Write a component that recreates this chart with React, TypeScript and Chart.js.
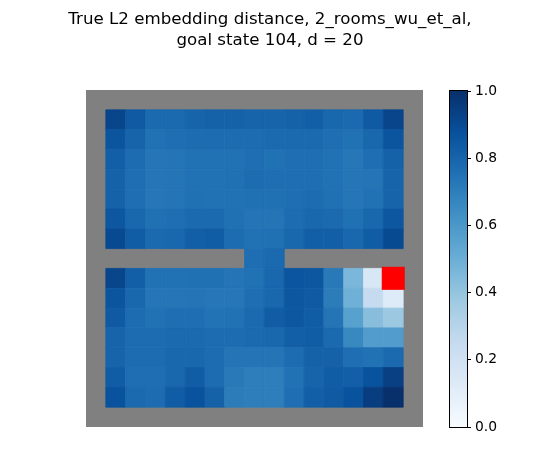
import React, { useEffect, useRef } from "react";
import { Chart, registerables } from "chart.js";

Chart.register(...registerables);

const titleLines = ["True L2 embedding distance, 2_rooms_wu_et_al,", "goal state 104, d = 20"];
const FONT = "'DejaVu Sans'";
const _ = null;
const row00 = [_, _, _, _, _, _, _, _, _, _, _, _, _, _, _, _, _];
const row01 = [_, .92, .84, .78, .78, .80, .81, .81, .80, .80, .81, .82, .79, .78, .84, .92, _];
const row02 = [_, .86, .80, .75, .76, .77, .77, .77, .77, .78, .78, .78, .76, .75, .79, .86, _];
const row03 = [_, .82, .77, .735, .74, .75, .75, .75, .76, .75, .76, .76, .75, .73, .76, .81, _];
const row04 = [_, .81, .76, .735, .74, .75, .75, .755, .77, .76, .76, .76, .75, .735, .74, .80, _];
const row05 = [_, .81, .76, .73, .74, .755, .75, .75, .755, .755, .76, .77, .755, .735, .75, .80, _];
const row06 = [_, .85, .79, .755, .76, .78, .78, .755, .74, .74, .77, .79, .78, .755, .79, .85, _];
const row07 = [_, .90, .83, .78, .79, .82, .83, .77, .75, .755, .79, .82, .82, .79, .83, .90, _];
const row08 = [_, _, _, _, _, _, _, _, .76, .78, _, _, _, _, _, _, _];
const row09 = [_, .92, .82, .75, .75, .755, .755, .74, .75, .79, .86, .85, .72, .46, .16, 0, _];
const row10 = [_, .86, .79, .735, .735, .74, .73, .73, .76, .79, .85, .84, .71, .49, .25, .13, _];
const row11 = [_, .84, .77, .75, .76, .76, .745, .75, .78, .83, .85, .83, .74, .56, .43, .38, _];
const row12 = [_, .80, .77, .77, .78, .78, .77, .77, .78, .79, .82, .83, .78, .66, .58, .58, _];
const row13 = [_, .80, .77, .77, .79, .79, .77, .74, .74, .74, .77, .81, .81, .76, .75, .78, _];
const row14 = [_, .83, .76, .76, .79, .83, .77, .72, .70, .70, .75, .80, .83, .82, .87, .94, _];
const row15 = [_, .87, .78, .77, .83, .87, .81, .71, .70, .70, .76, .82, .84, .87, .95, 1.0, _];
const row16 = row00;
const grid = [row00, row01, row02, row03, row04, row05, row06, row07, row08, row09, row10, row11, row12, row13, row14, row15, row16];
const goalCell = [{ x: 15.5, y: 9.5 }];
const colorbarTicks = [0, 0.2, 0.4, 0.6, 0.8, 1.0];
const blues = ["#f7fbff", "#deebf7", "#c6dbef", "#9ecae1", "#6baed6", "#4292c6", "#2171b5", "#08519c", "#08306b"];

const toRgb = (h: string) => [1, 3, 5].map((i) => parseInt(h.slice(i, i + 2), 16));
function blue(v: number) {
  const p = Math.min(0.99999, Math.max(0, v)) * (blues.length - 1);
  const i = Math.floor(p);
  const a = toRgb(blues[i]);
  const b = toRgb(blues[i + 1]);
  const t = p - i;
  return `rgb(${a.map((c, k) => Math.round(c + (b[k] - c) * t)).join(",")})`;
}

const cellPoints: { x: number; y: number; v: number }[] = [];
const wallPoints: { x: number; y: number }[] = [];
grid.forEach((row, r) =>
  row.forEach((v, c) => {
    if (v === null) wallPoints.push({ x: c + 0.5, y: r + 0.5 });
    else cellPoints.push({ x: c + 0.5, y: r + 0.5, v });
  })
);

export default function App() {
  const mainRef = useRef<HTMLCanvasElement>(null);
  const barRef = useRef<HTMLCanvasElement>(null);
  useEffect(() => {
    document.body.style.margin = "0";
    const main = new Chart(mainRef.current!, {
      type: "scatter",
      data: {
        datasets: [
          { data: goalCell, pointStyle: "rect", pointRadius: 16.3, pointBackgroundColor: "#ff0000", pointBorderWidth: 0 },
          {
            data: cellPoints,
            pointStyle: "rect",
            pointRadius: 14.02,
            pointBackgroundColor: cellPoints.map((p) => blue(p.v)),
            pointBorderColor: cellPoints.map((p) => blue(p.v)),
            pointBorderWidth: 0.8,
          },
          {
            data: wallPoints,
            pointStyle: "rect",
            pointRadius: 14.02,
            pointBackgroundColor: "#808080",
            pointBorderColor: "#808080",
            pointBorderWidth: 2,
          },
        ],
      } as any,
      options: {
        responsive: false,
        animation: false,
        layout: { padding: { bottom: 23 } },
        plugins: {
          legend: { display: false },
          tooltip: { enabled: false },
          title: {
            display: true,
            text: titleLines,
            color: "#000",
            font: { family: FONT, size: 16.67, weight: "normal", lineHeight: 1.25 },
            padding: { top: 9, bottom: 39.33 },
          },
        },
        scales: {
          x: { min: 0, max: 17, display: false },
          y: {
            min: 0,
            max: 17,
            reverse: true,
            grid: { display: false },
            border: { display: false },
            ticks: { display: false },
            afterFit: (s: any) => { s.width = 86; },
          },
          yr: {
            position: "right",
            grid: { display: false },
            border: { display: false },
            ticks: { display: false },
            afterFit: (s: any) => { s.width = 117; },
          },
        },
      } as any,
    });
    const bar = new Chart(barRef.current!, {
      type: "bar",
      data: {
        labels: [""],
        datasets: [
          {
            data: [[0, 1]],
            barPercentage: 1,
            categoryPercentage: 1,
            borderSkipped: false,
            borderWidth: 0,
            backgroundColor: (ctx: any) => {
              const area = ctx.chart.chartArea;
              if (!area) return blues[4];
              const g = ctx.chart.ctx.createLinearGradient(0, area.bottom, 0, area.top);
              blues.forEach((c, i) => g.addColorStop(i / (blues.length - 1), c));
              return g;
            },
          },
        ],
      } as any,
      plugins: [
        {
          id: "frame",
          afterDatasetsDraw(c: any) {
            const { left, top, width, height } = c.chartArea;
            c.ctx.save();
            c.ctx.strokeStyle = "#000";
            c.ctx.lineWidth = 1;
            c.ctx.strokeRect(Math.round(left) - 0.5, Math.round(top) - 0.5, Math.round(width) + 1, Math.round(height) + 1);
            c.ctx.restore();
          },
        },
      ],
      options: {
        responsive: false,
        animation: false,
        layout: { padding: { left: 450, top: 91, bottom: 23, right: 23 } },
        plugins: { legend: { display: false }, tooltip: { enabled: false } },
        scales: {
          x: { display: false },
          y: {
            position: "right",
            min: 0,
            max: 1,
            afterBuildTicks: (s: any) => { s.ticks = colorbarTicks.map((value) => ({ value })); },
            grid: { drawOnChartArea: false, drawTicks: true, tickLength: 4, tickColor: "#000", tickWidth: 1 },
            border: { display: false },
            ticks: {
              color: "#000",
              padding: 4,
              font: { family: FONT, size: 13.89 },
              callback: (v: any) => Number(v).toFixed(1),
            },
            afterFit: (s: any) => { s.width = 50; },
          },
        },
      } as any,
    });
    return () => {
      main.destroy();
      bar.destroy();
    };
  }, []);
  const style: React.CSSProperties = { position: "absolute", left: 0, top: 0, display: "block" };
  return (
    <div style={{ position: "relative", width: 540, height: 450 }}>
      <canvas ref={mainRef} width={540} height={450} style={style} />
      <canvas ref={barRef} width={540} height={450} style={style} />
    </div>
  );
}
